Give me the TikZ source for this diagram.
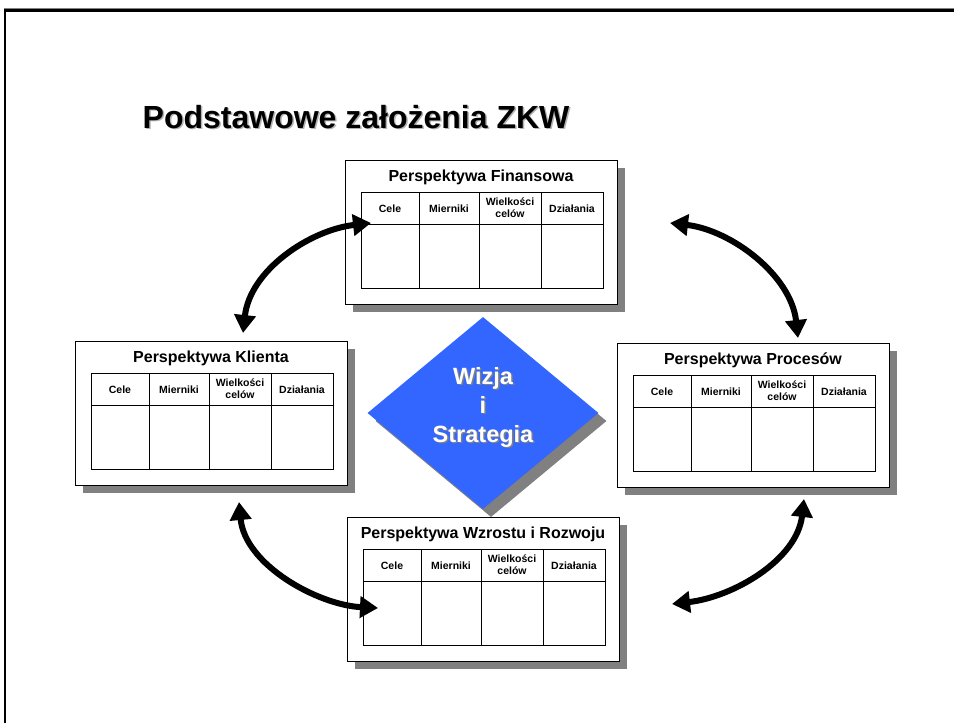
\documentclass[tikz,border=0pt]{standalone}
\usepackage{fontspec}
\setmainfont{Liberation Sans}
\usetikzlibrary{arrows.meta,shapes.geometric,shadows}
\definecolor{visblue}{RGB}{51,102,255}
\definecolor{shadowgray}{RGB}{128,128,128}
\tikzset{
  persp/.style={draw=black,line width=0.8pt,fill=white,minimum width=272pt,minimum height=144pt,inner sep=0pt,
    drop shadow={shadow xshift=8pt,shadow yshift=-8pt,fill=shadowgray,opacity=1}},
  ptitle/.style={font=\fontsize{16}{18}\selectfont\bfseries},
  grid/.style={line width=0.9pt},
  colhead/.style={font=\fontsize{10.5}{12}\selectfont\bfseries,align=center},
  headline/.style={font=\fontsize{32}{36}\selectfont\bfseries,inner sep=0pt},
  vision/.style={diamond,fill=visblue,minimum width=231pt,minimum height=192pt,inner sep=0pt,
    drop shadow={shadow xshift=8pt,shadow yshift=-8pt,fill=shadowgray,opacity=1}},
  visiontext/.style={font=\fontsize{23.5}{29}\selectfont\bfseries,align=center},
  link/.style={line width=6pt,{Triangle[length=18pt,width=21pt]}-{Triangle[length=18pt,width=21pt]}}
}
\begin{document}
\begin{tikzpicture}[x=1pt,y=-1pt]
  \useasboundingbox (0,0) rectangle (954,723);
  % slide frame
  \draw[shadowgray,line width=1pt] (4,8.5) -- (954,8.5);
  \draw[line width=2.2pt] (5,723) -- (5,10.5) -- (954,10.5);

  \node[headline,text=shadowgray!60,anchor=base west] at (144,129.5) {Podstawowe założenia ZKW};
  \node[headline,anchor=base west] (head) at (142.5,128) {Podstawowe założenia ZKW};

  % the four perspectives
  \foreach \nm/\px/\py/\ttl in {fin/345/160/{Perspektywa Finansowa},
                                kli/75/341/{Perspektywa Klienta},
                                pro/617/343/{Perspektywa Procesów},
                                wzr/347/517/{Perspektywa Wzrostu i Rozwoju}}{
    \begin{scope}[shift={(\px,\py)}]
      \node[persp,anchor=north west] (\nm) at (0,0) {};
      \node[ptitle] at (136,17) {\ttl};
      \draw[grid] (16,32) rectangle (258,128);
      \draw[grid] (16,64) -- (258,64);
      \foreach \cx in {74,134,196} \draw[grid] (\cx,32) -- (\cx,128);
      \node[colhead] at (45,49) {Cele};
      \node[colhead] at (104,49) {Mierniki};
      \node[colhead] at (165,48) {Wielkości\\celów};
      \node[colhead] at (227,49) {Działania};
    \end{scope}
  }

  % vision and strategy
  \node[vision] (vis) at (483,413) {};
  \node[visiontext,text=shadowgray] at (484.5,408.5) {Wizja\\i\\Strategia};
  \node[visiontext,text=white] (vistext) at (483,407) {Wizja\\i\\Strategia};

  % arrow ends
  \coordinate (kliTop) at (243,333);
  \coordinate (finIn) at (371,223);
  \coordinate (finOut) at (670,223);
  \coordinate (proTop) at (798,338);
  \coordinate (proBot) at (804,499);
  \coordinate (wzrOut) at (672,604);
  \coordinate (kliBot) at (239,502);
  \coordinate (wzrIn) at (378,608);

  \draw[link] (kliTop) .. controls (250,270) and (310,230) .. (finIn);
  \draw[link] (finOut) .. controls (731,230) and (791,275) .. (proTop);
  \draw[link] (proBot) .. controls (797,560) and (733,597) .. (wzrOut);
  \draw[link] (kliBot) .. controls (245,565) and (318,605) .. (wzrIn);
\end{tikzpicture}
\end{document}
